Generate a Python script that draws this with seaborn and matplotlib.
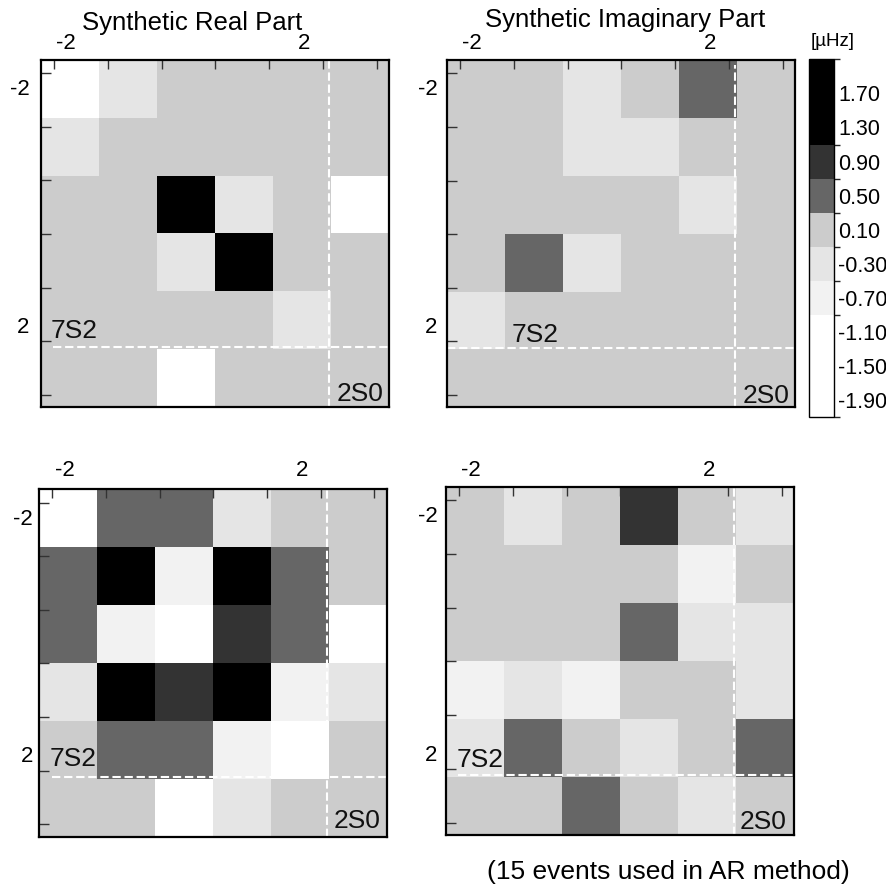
import numpy as np
import pandas as pd
import matplotlib
matplotlib.use("Agg")
import matplotlib.pyplot as plt
from matplotlib.colors import ListedColormap, BoundaryNorm
import seaborn as sns

# ---------------- data ----------------
cells = ["-2", "-1", "0", "1", "2", "2S0"]

synthetic_real = [
    [-1.5, -0.3, 0.1, 0.1, 0.1, 0.1],
    [-0.3, 0.1, 0.1, 0.1, 0.1, 0.1],
    [0.1, 0.1, 1.8, -0.3, 0.1, -1.5],
    [0.1, 0.1, -0.3, 1.8, 0.1, 0.1],
    [0.1, 0.1, 0.1, 0.1, -0.3, 0.1],
    [0.1, 0.1, -1.5, 0.1, 0.1, 0.1],
]
synthetic_imag = [
    [0.1, 0.1, -0.3, 0.1, 0.5, 0.1],
    [0.1, 0.1, -0.3, -0.3, 0.1, 0.1],
    [0.1, 0.1, 0.1, 0.1, -0.3, 0.1],
    [0.1, 0.5, -0.3, 0.1, 0.1, 0.1],
    [-0.3, 0.1, 0.1, 0.1, 0.1, 0.1],
    [0.1, 0.1, 0.1, 0.1, 0.1, 0.1],
]
ar_real = [
    [-1.5, 0.5, 0.5, -0.3, 0.1, 0.1],
    [0.5, 1.5, -0.7, 1.5, 0.5, 0.1],
    [0.5, -0.7, -1.5, 0.9, 0.5, -1.5],
    [-0.3, 1.5, 0.9, 1.5, -0.7, -0.3],
    [0.1, 0.5, 0.5, -0.7, -1.5, 0.1],
    [0.1, 0.1, -1.5, -0.3, 0.1, 0.1],
]
ar_imag = [
    [0.1, -0.3, 0.1, 0.9, 0.1, -0.3],
    [0.1, 0.1, 0.1, 0.1, -0.7, 0.1],
    [0.1, 0.1, 0.1, 0.5, -0.3, -0.3],
    [-0.7, -0.3, -0.7, 0.1, 0.1, -0.3],
    [-0.3, 0.5, 0.1, -0.3, 0.1, 0.5],
    [0.1, 0.1, 0.5, 0.1, -0.3, 0.1],
]

level_bounds = [-2.1, -0.9, -0.5, -0.1, 0.3, 0.7, 1.1, 2.1]
level_colors = ["#ffffff", "#f2f2f2", "#e5e5e5", "#cccccc", "#666666", "#333333", "#000000"]
cbar_ticks = [-1.9, -1.5, -1.1, -0.7, -0.3, 0.1, 0.5, 0.9, 1.3, 1.7]
cbar_labels = ["-1.90", "-1.50", "-1.10", "-0.70", "-0.30", "0.10", "0.50", "0.90", "1.30", "1.70"]
axis_labels = ["-2", "2"]

titles = ["Synthetic Real Part", "Synthetic Imaginary Part"]
note = "(15 events used in AR method)"

# ---------------- style ----------------
sns.set_theme(style="white")
plt.rcParams["font.family"] = ["Liberation Sans", "DejaVu Sans"]
plt.rcParams["axes.unicode_minus"] = False
plt.rcParams["text.color"] = "black"
plt.rcParams["xtick.labelcolor"] = "black"
plt.rcParams["ytick.labelcolor"] = "black"

W = H = 886
fig = plt.figure(figsize=(8.86, 8.86), dpi=100)
fig.patch.set_facecolor("white")

cmap = ListedColormap(level_colors)
norm = BoundaryNorm(level_bounds, cmap.N)

def px_rect(x0, y0, x1, y1):
    return [x0 / W, 1 - y1 / H, (x1 - x0) / W, (y1 - y0) / H]

panels = [
    dict(data=synthetic_real, rect=(40.7, 60, 389, 407), s7=(0.17, 4.81), s2=(5.09, 5.89),
         vstart=0.0, hstart=0.21, top_pad=4.0, left_pad=8.0),
    dict(data=synthetic_imag, rect=(446.7, 60, 795, 407.3), s7=(1.12, 4.87), s2=(5.10, 5.92),
         vstart=0.08, hstart=0.0, top_pad=4.0, left_pad=6.8),
    dict(data=ar_real, rect=(39, 489.3, 386.7, 836.7), s7=(0.18, 4.78), s2=(5.09, 5.85),
         vstart=0.0, hstart=0.22, top_pad=6.2, left_pad=4.3),
    dict(data=ar_imag, rect=(445.7, 486.7, 794, 835), s7=(0.18, 4.82), s2=(5.06, 5.89),
         vstart=0.0, hstart=0.21, top_pad=3.8, left_pad=5.8),
]

tick_pos = 0.23 + 0.926 * np.arange(7)
xlab_pos = [0.44, 4.54]
ylab_pos = [0.47, 4.58]

mesh = None
for p in panels:
    ax = fig.add_axes(px_rect(*p["rect"]))
    df = pd.DataFrame(p["data"], index=cells, columns=cells)
    sns.heatmap(df, ax=ax, cmap=cmap, norm=norm, cbar=False,
                xticklabels=False, yticklabels=False, linewidths=0)
    mesh = ax.collections[0]
    ax.set_axisbelow(False)
    ax.set_xlim(0, 6)
    ax.set_ylim(6, 0)
    for s in ax.spines.values():
        s.set_visible(True)
        s.set_color("black")
        s.set_linewidth(1.6)
        s.set_zorder(5)
    ax.xaxis.tick_top()
    ax.set_xticks(xlab_pos, labels=axis_labels)
    ax.set_yticks(ylab_pos, labels=axis_labels)
    ax.set_xticks(tick_pos, minor=True)
    ax.set_yticks(tick_pos, minor=True)
    ax.tick_params(axis="x", which="major", length=0, pad=p["top_pad"], labelsize=16,
                   top=True, bottom=False, labeltop=True, labelbottom=False)
    ax.tick_params(axis="y", which="major", length=0, pad=p["left_pad"], labelsize=16,
                   left=True, right=False)
    ax.tick_params(axis="x", which="minor", direction="in", length=6.5, width=1.0,
                   color="#333333", top=True, bottom=False)
    ax.tick_params(axis="y", which="minor", direction="in", length=7, width=1.0,
                   color="#333333", left=True, right=False)
    dash = (0, (4.0, 1.8))
    ax.axvline(4.97, ymin=0, ymax=1 - p["vstart"] / 6, color="white", lw=1.5, ls=dash)
    ax.axhline(4.97, xmin=p["hstart"] / 6, xmax=1, color="white", lw=1.5, ls=dash)
    ax.text(p["s7"][0], p["s7"][1], "7S2", ha="left", va="baseline", fontsize=19, color="#111111")
    ax.text(p["s2"][0], p["s2"][1], "2S0", ha="left", va="baseline", fontsize=19, color="#111111")

# colorbar
cax = fig.add_axes(px_rect(809.3, 59.3, 834, 417.3))
cb = fig.colorbar(mesh, cax=cax, spacing="proportional")
cb.set_ticks(cbar_ticks, labels=cbar_labels)
cb.outline.set_linewidth(1.0)
cb.outline.set_edgecolor("black")
cax.tick_params(length=0, pad=3, labelsize=15.5)

fig.text(832.5 / W, 1 - 41 / H, "[µHz]", ha="center", va="center", fontsize=13.5)
fig.text(192 / W, 1 - 30 / H, titles[0], ha="center", va="baseline", fontsize=18.5)
fig.text(625.5 / W, 1 - 27.3 / H, titles[1], ha="center", va="baseline", fontsize=18.5)
fig.text(668.5 / W, 1 - 879 / H, note, ha="center", va="baseline", fontsize=19)

fig.savefig("out.png", dpi=100, facecolor="white")
